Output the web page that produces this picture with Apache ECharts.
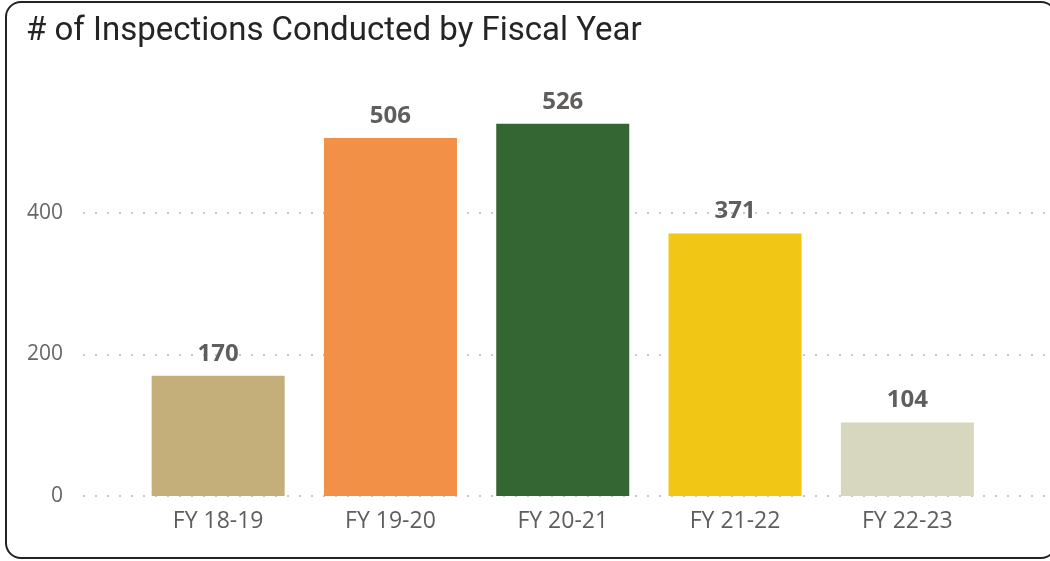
<!DOCTYPE html>
<html>
<head>
<meta charset="utf-8">
<script src="https://cdn.jsdelivr.net/npm/echarts@6/dist/echarts.min.js"></script>
<style>
html,body{margin:0;padding:0;background:#fff;overflow:hidden;}
#chart{position:absolute;left:0;top:0;width:1050px;height:561px;}
#frame{position:absolute;left:5px;top:1px;width:1048px;height:554px;border:2px solid #222;border-radius:16px;pointer-events:none;}
</style>
</head>
<body>
<div id="chart"></div>
<div id="frame"></div>
<script>
const categories = ['FY 18-19', 'FY 19-20', 'FY 20-21', 'FY 21-22', 'FY 22-23'];
const inspections = [170, 506, 526, 371, 104];
const barColors = ['#C4AF7B', '#F29048', '#336633', '#F1C615', '#D7D6BF'];
const yTicks = [0, 200, 400];

const chart = echarts.init(document.getElementById('chart'), null, {renderer: 'canvas'});
chart.setOption({
  animation: false,
  title: {
    text: '# of Inspections Conducted by Fiscal Year',
    left: 21, top: 10,
    textStyle: {fontFamily: 'Roboto', fontWeight: 'normal', fontSize: 33, color: '#252423'}
  },
  grid: [
    {left: 132, right: 56.5, top: 71.5, bottom: 65},
    {left: 83, right: 0, top: 213, bottom: 65}
  ],
  xAxis: [
    {
      gridIndex: 0, type: 'category', data: categories,
      axisLine: {show: false}, axisTick: {show: false},
      axisLabel: {fontFamily: 'Open Sans', fontSize: 23, color: '#605E5C', margin: 14}
    },
    {gridIndex: 1, type: 'value', min: 0, max: 1, show: false}
  ],
  yAxis: [
    {gridIndex: 0, type: 'value', min: 0, max: 600, show: false},
    {
      gridIndex: 1, type: 'value', min: yTicks[0], max: yTicks[yTicks.length - 1], interval: 200,
      axisLine: {show: false}, axisTick: {show: false},
      axisLabel: {fontFamily: 'Open Sans', fontSize: 21, color: '#666666', margin: 20},
      splitLine: {show: true, lineStyle: {color: '#C8C8C8', width: 2, type: [2, 10]}}
    }
  ],
  series: [{
    type: 'bar',
    xAxisIndex: 0, yAxisIndex: 0,
    data: inspections.map((v, i) => ({value: v, itemStyle: {color: barColors[i]}})),
    barCategoryGap: '22.8%',
    label: {
      show: true, position: 'top', distance: 10,
      fontFamily: 'Open Sans', fontWeight: 'bold', fontSize: 24, color: '#605E5C'
    }
  }]
});
</script>
</body>
</html>
